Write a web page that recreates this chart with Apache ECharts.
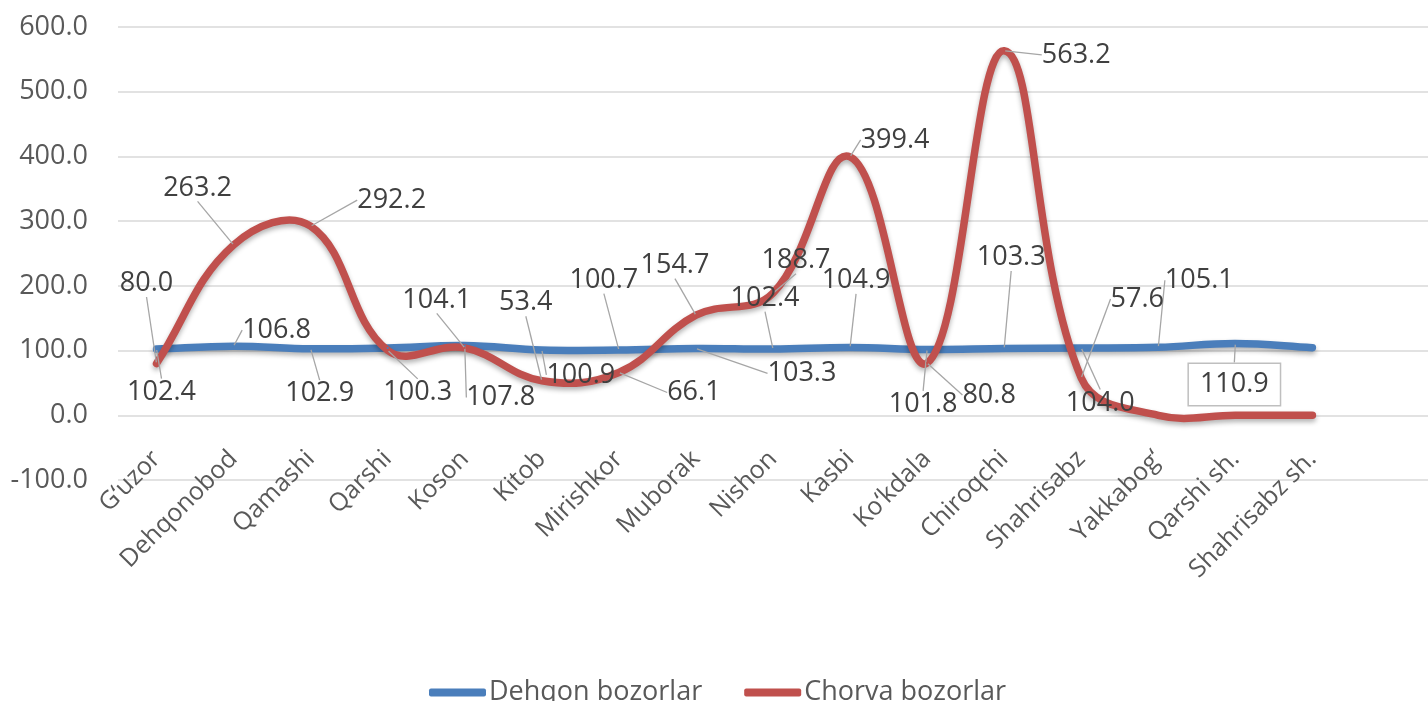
<!DOCTYPE html>
<html>
<head>
<meta charset="utf-8">
<script src="https://cdn.jsdelivr.net/npm/echarts@6/dist/echarts.min.js"></script>
<style>
html,body{margin:0;padding:0;background:#fff;}
#c{width:1428px;height:701px;}
</style>
</head>
<body>
<div id="c"></div>
<script>
const categories = ['G‘uzor','Dehqonobod','Qamashi','Qarshi','Koson','Kitob','Mirishkor','Muborak','Nishon','Kasbi','Ko‘kdala','Chiroqchi','Shahrisabz','Yakkabog‘','Qarshi sh.','Shahrisabz sh.'];
const seriesNames = ['Dehqon bozorlar','Chorva bozorlar'];
const dehqon = [102.4,106.8,102.9,104.0,107.8,100.9,100.7,103.3,102.4,104.9,101.8,103.3,104.0,105.1,110.9,104.5];
const chorva = [80.0,263.2,292.2,100.3,104.1,53.4,66.1,154.7,188.7,399.4,80.8,563.2,57.6,0,0,0];
const yTicks = {min:-100, max:600, interval:100};

// label placement (style only): [dx, dy] from the point, null = no label
const dehqonLabelPos = [[5,43],[43,-16],[9,45],null,[36,52],[39,25],[-15,-70],[106,25],[-8,-51],[6,-67],[-4,55],[7,-91],[19,55],[41,-67],[-1,41],null];
const chorvaLabelPos = [[-10,-80],[-36,-57],[81,-26],[30,42],[-28,-48],[-16,-78],[75,20],[-21,-50],[23,-33],[45,-17],[62,32],[72,4],[56,-79],null,null,null];
const boxedLabel = {series:0, index:14};
const labelPos = [dehqonLabelPos, chorvaLabelPos];

const colors = ['#4A7EBB','#C0504D'];
const tension = 0.4;

function buildData(vals, si){
  return vals.map((v,i)=>{
    const item = {value:v};
    if(!labelPos[si][i]) item.label = {show:false};
    if(si===boxedLabel.series && i===boxedLabel.index){
      item.label = {show:true, borderColor:'#BFBFBF', borderWidth:1.5, padding:[7,11], backgroundColor:'#fff'};
    }
    return item;
  });
}

// Excel-like smoothed curve (tangents weighted by segment lengths) through axis coordinates
function curveSeries(si, vals){
  return {
    type:'custom', name:seriesNames[si], z:1, silent:true, clip:false,
    data:[[0, vals[0]]],
    renderItem:function(params, api){
      const pts = vals.map((v,i)=>api.coord([i,v]));
      const n = pts.length;
      const dist = (a,b)=>Math.hypot(b[0]-a[0], b[1]-a[1]);
      const cpIn = [], cpOut = [];
      for(let i=0;i<n;i++){
        const prev = pts[Math.max(i-1,0)], cur = pts[i], next = pts[Math.min(i+1,n-1)];
        const tx = next[0]-prev[0], ty = next[1]-prev[1];
        const dp = dist(prev,cur), dn = dist(cur,next);
        const s = dp+dn || 1;
        cpOut[i] = [cur[0]+tx*dn/s*tension, cur[1]+ty*dn/s*tension];
        cpIn[i]  = [cur[0]-tx*dp/s*tension, cur[1]-ty*dp/s*tension];
      }
      let d = 'M' + pts[0][0] + ',' + pts[0][1];
      for(let i=0;i<n-1;i++){
        d += ' C' + cpOut[i][0]+','+cpOut[i][1]+' '+cpIn[i+1][0]+','+cpIn[i+1][1]+' '+pts[i+1][0]+','+pts[i+1][1];
      }
      return {
        type:'path', shape:{pathData:d},
        style:{fill:'none', stroke:colors[si], lineWidth:7.5, lineCap:'round', lineJoin:'round',
               shadowBlur:5, shadowColor:'rgba(0,0,0,0.3)', shadowOffsetY:3}
      };
    },
    animation:false
  };
}

function labelSeries(si, vals){
  return {
    name: seriesNames[si],
    type:'line',
    z:3,
    data: buildData(vals, si),
    symbol:'circle',
    symbolSize:2,
    showSymbol:true,
    itemStyle:{color:colors[si]},
    lineStyle:{opacity:0, width:0},
    label:{
      show:true, position:'inside',
      formatter:p=>Number(p.value).toFixed(1),
      fontFamily:'Open Sans', fontSize:27, color:'#404040'
    },
    labelLine:{show:true, lineStyle:{color:'#A6A6A6', width:1.3}},
    labelLayout:function(params){
      const o = labelPos[params.seriesIndex-2][params.dataIndex];
      return o ? {dx:o[0], dy:o[1]} : {};
    },
    emphasis:{disabled:true},
    animation:false
  };
}

const chart = echarts.init(document.getElementById('c'));
chart.setOption({
  animation:false,
  grid:{left:118, right:0, top:27, bottom:221, containLabel:false},
  legend:{
    data:seriesNames.map((n,i)=>({name:n, icon:'roundRect', itemStyle:{color:colors[i]}})),
    top:674, left:424,
    itemWidth:57, itemHeight:8, itemGap:42,
    textStyle:{fontFamily:'Open Sans', fontSize:27, color:'#595959', padding:[0,0,0,-2]}
  },
  xAxis:{
    type:'category',
    data:categories.concat(['']),
    boundaryGap:true,
    offset:-65,
    axisTick:{show:false},
    axisLine:{show:false, onZero:false},
    axisLabel:{interval:0, rotate:45, fontFamily:'Open Sans', fontSize:25, color:'#595959', margin:40}
  },
  yAxis:{
    type:'value', min:yTicks.min, max:yTicks.max, interval:yTicks.interval,
    axisLine:{show:false}, axisTick:{show:false},
    splitLine:{lineStyle:{color:'#D9D9D9', width:1.5}},
    axisLabel:{formatter:v=>v.toFixed(1), fontFamily:'Open Sans', fontSize:27, color:'#595959', margin:30}
  },
  series:[curveSeries(0, dehqon), curveSeries(1, chorva), labelSeries(0, dehqon), labelSeries(1, chorva)]
});
</script>
</body>
</html>
